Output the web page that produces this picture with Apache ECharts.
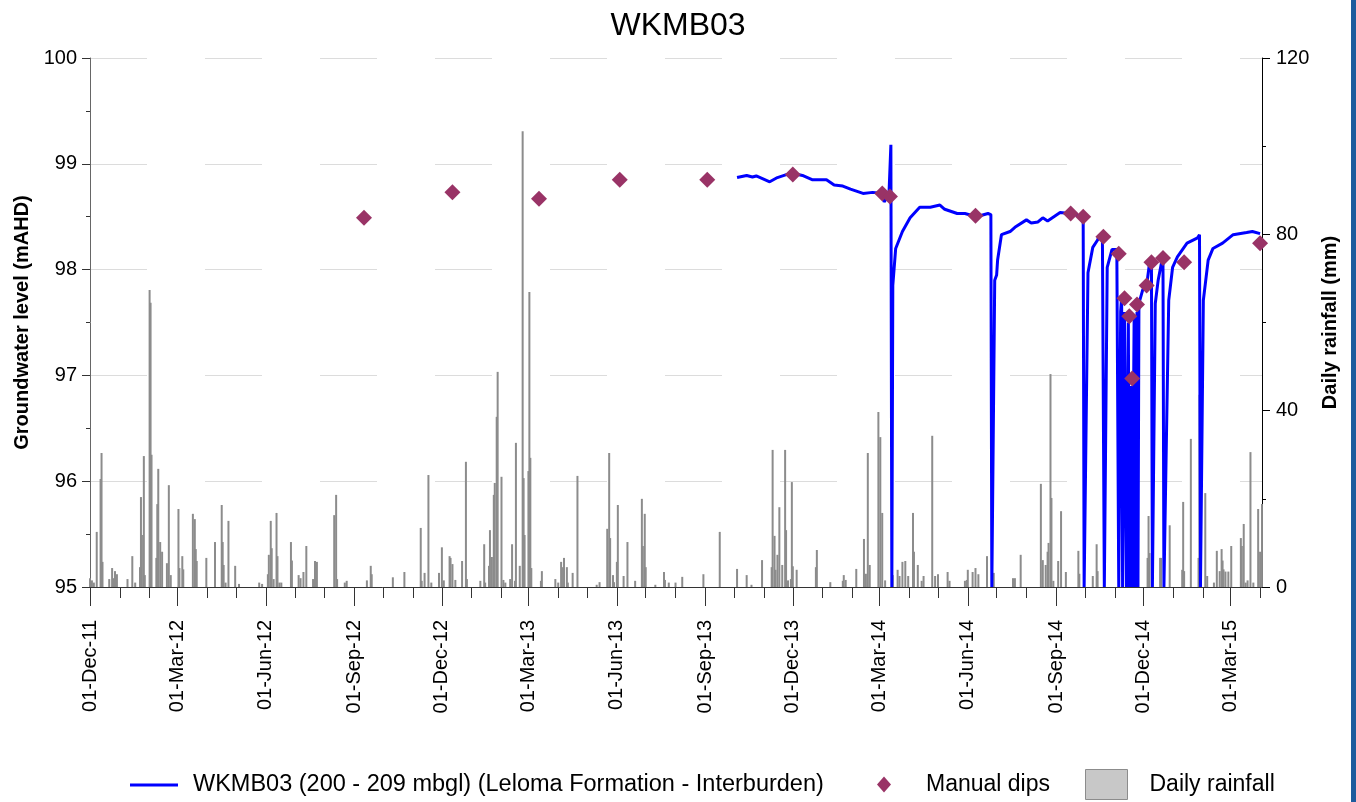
<!DOCTYPE html>
<html><head><meta charset="utf-8">
<script src="https://cdn.jsdelivr.net/npm/echarts@6/dist/echarts.min.js"></script>
<style>html,body{margin:0;padding:0;background:#fff}#c{width:1356px;height:802px}</style>
</head><body><div id="c"></div>
<script>
const chartTitle = 'WKMB03';
const lineName = 'WKMB03 (200 - 209 mbgl) (Leloma Formation - Interburden)';
const dipName = 'Manual dips';
const rainName = 'Daily rainfall';
const leftAxisName = 'Groundwater level (mAHD)';
const rightAxisName = 'Daily rainfall (mm)';
const xStart = '2011-12-01';
const xEnd = '2015-04-03';
const tickDates = ['2011-12-01','2012-03-01','2012-06-01','2012-09-01','2012-12-01','2013-03-01','2013-06-01','2013-09-01','2013-12-01','2014-03-01','2014-06-01','2014-09-01','2014-12-01','2015-03-01'];
const monthNames = ['Jan','Feb','Mar','Apr','May','Jun','Jul','Aug','Sep','Oct','Nov','Dec'];

const gwDates = ['2013-10-04','2013-10-14','2013-10-20','2013-10-24','2013-11-07','2013-11-15','2013-11-25','2013-12-01','2013-12-11','2013-12-21','2014-01-05','2014-01-13','2014-01-22','2014-01-30','2014-02-12','2014-02-22','2014-03-04','2014-03-06','2014-03-11','2014-03-13','2014-03-14','2014-03-15','2014-03-18','2014-03-25','2014-04-02','2014-04-12','2014-04-23','2014-05-03','2014-05-08','2014-05-21','2014-05-29','2014-06-10','2014-06-22','2014-06-25','2014-06-26','2014-06-29','2014-07-01','2014-07-02','2014-07-06','2014-07-15','2014-07-20','2014-08-01','2014-08-06','2014-08-13','2014-08-18','2014-08-23','2014-09-05','2014-09-15','2014-09-29','2014-09-30','2014-10-04','2014-10-09','2014-10-14','2014-10-16','2014-10-19','2014-10-21','2014-10-24','2014-10-29','2014-11-03','2014-11-05','2014-11-07','2014-11-08','2014-11-09','2014-11-11','2014-11-13','2014-11-15','2014-11-16','2014-11-18','2014-11-19','2014-11-21','2014-11-22','2014-11-24','2014-11-25','2014-11-26','2014-11-30','2014-12-04','2014-12-07','2014-12-09','2014-12-10','2014-12-13','2014-12-16','2014-12-20','2014-12-21','2014-12-22','2014-12-27','2014-12-31','2015-01-05','2015-01-15','2015-01-26','2015-01-28','2015-01-29','2015-02-01','2015-02-06','2015-02-11','2015-02-21','2015-03-04','2015-03-18','2015-03-24','2015-04-01'];
const gwValues = [98.87,98.89,98.875,98.885,98.83,98.87,98.90,98.91,98.89,98.85,98.85,98.80,98.79,98.76,98.72,98.73,98.72,98.64,98.71,99.18,95.0,97.85,98.20,98.36,98.49,98.59,98.59,98.61,98.57,98.53,98.53,98.50,98.53,98.52,95.0,97.90,97.95,98.09,98.33,98.36,98.40,98.47,98.44,98.45,98.49,98.46,98.54,98.53,98.50,95.0,97.97,98.21,98.28,98.33,98.31,95.0,98.02,98.19,98.19,95.0,97.6,97.75,95.0,97.6,95.0,97.5,95.0,96.9,95.0,97.55,95.0,97.6,95.0,97.68,97.81,97.85,98.06,98.08,95.0,97.68,97.90,98.09,98.11,95.0,97.71,98.02,98.12,98.25,98.30,98.33,95.0,97.71,98.09,98.20,98.25,98.33,98.35,98.36,98.34];

const dipDates = ['2012-09-11','2012-12-12','2013-03-12','2013-06-04','2013-09-03','2013-12-01','2014-03-04','2014-03-12','2014-06-09','2014-09-16','2014-09-29','2014-10-20','2014-11-05','2014-11-11','2014-11-16','2014-11-19','2014-11-24','2014-12-04','2014-12-09','2014-12-21','2015-01-12','2015-04-01'];
const dipValues = [98.49,98.73,98.67,98.85,98.85,98.90,98.72,98.69,98.51,98.53,98.50,98.31,98.15,97.73,97.56,96.97,97.67,97.85,98.07,98.11,98.07,98.25];

const rainDates = ['2011-12-01','2011-12-03','2011-12-05','2011-12-08','2011-12-12','2011-12-13','2011-12-14','2011-12-21','2011-12-24','2011-12-25','2011-12-27','2011-12-29','2012-01-09','2012-01-14','2012-01-17','2012-01-22','2012-01-23','2012-01-24','2012-01-26','2012-01-27','2012-02-01','2012-02-02','2012-02-03','2012-02-08','2012-02-09','2012-02-10','2012-02-12','2012-02-14','2012-02-19','2012-02-21','2012-02-23','2012-03-02','2012-03-03','2012-03-06','2012-03-07','2012-03-17','2012-03-19','2012-03-20','2012-03-21','2012-03-31','2012-04-09','2012-04-16','2012-04-17','2012-04-18','2012-04-20','2012-04-23','2012-04-30','2012-05-04','2012-05-25','2012-05-28','2012-06-03','2012-06-04','2012-06-06','2012-06-07','2012-06-09','2012-06-12','2012-06-13','2012-06-15','2012-06-17','2012-06-27','2012-06-28','2012-07-05','2012-07-07','2012-07-10','2012-07-13','2012-07-20','2012-07-22','2012-07-24','2012-08-11','2012-08-13','2012-08-14','2012-08-22','2012-08-24','2012-09-14','2012-09-18','2012-09-19','2012-10-11','2012-10-23','2012-11-09','2012-11-10','2012-11-13','2012-11-17','2012-11-20','2012-11-28','2012-12-01','2012-12-03','2012-12-09','2012-12-10','2012-12-12','2012-12-15','2012-12-22','2012-12-26','2012-12-27','2013-01-10','2013-01-14','2013-01-15','2013-01-19','2013-01-20','2013-01-22','2013-01-24','2013-01-25','2013-01-27','2013-01-28','2013-02-01','2013-02-03','2013-02-05','2013-02-10','2013-02-12','2013-02-15','2013-02-16','2013-02-20','2013-02-23','2013-02-24','2013-02-25','2013-03-01','2013-03-02','2013-03-03','2013-03-04','2013-03-14','2013-03-15','2013-03-29','2013-04-01','2013-04-04','2013-04-06','2013-04-07','2013-04-10','2013-04-11','2013-04-16','2013-04-21','2013-05-11','2013-05-14','2013-05-22','2013-05-24','2013-05-25','2013-05-28','2013-05-29','2013-06-01','2013-06-02','2013-06-08','2013-06-12','2013-06-20','2013-06-27','2013-06-28','2013-06-30','2013-07-01','2013-07-11','2013-07-20','2013-07-21','2013-07-25','2013-08-01','2013-08-08','2013-08-30','2013-09-16','2013-10-04','2013-10-14','2013-10-19','2013-10-30','2013-11-09','2013-11-10','2013-11-12','2013-11-13','2013-11-15','2013-11-17','2013-11-20','2013-11-23','2013-11-24','2013-11-26','2013-11-29','2013-11-30','2013-12-01','2013-12-05','2013-12-25','2013-12-26','2014-01-09','2014-01-22','2014-01-23','2014-01-25','2014-02-05','2014-02-13','2014-02-15','2014-02-17','2014-02-19','2014-02-28','2014-03-02','2014-03-04','2014-03-07','2014-03-15','2014-03-20','2014-03-22','2014-03-25','2014-03-28','2014-03-31','2014-04-05','2014-04-06','2014-04-10','2014-04-14','2014-04-16','2014-04-25','2014-04-28','2014-05-01','2014-05-11','2014-05-13','2014-05-29','2014-05-31','2014-06-01','2014-06-06','2014-06-09','2014-06-12','2014-06-21','2014-06-28','2014-07-18','2014-07-20','2014-07-26','2014-08-16','2014-08-18','2014-08-21','2014-08-23','2014-08-24','2014-08-26','2014-08-27','2014-08-29','2014-09-03','2014-09-06','2014-09-11','2014-09-24','2014-09-25','2014-10-09','2014-10-13','2014-10-14','2014-11-09','2014-12-05','2014-12-06','2014-12-07','2014-12-18','2014-12-19','2014-12-28','2015-01-10','2015-01-11','2015-01-12','2015-01-19','2015-01-27','2015-01-28','2015-02-03','2015-02-05','2015-02-12','2015-02-15','2015-02-18','2015-02-20','2015-02-21','2015-02-22','2015-02-24','2015-02-27','2015-03-02','2015-03-12','2015-03-13','2015-03-15','2015-03-17','2015-03-19','2015-03-22','2015-03-25','2015-03-30','2015-04-01','2015-04-03'];
const rainValues = [2,1.5,1,12.5,24.5,30.4,5.7,1.8,4.3,2,3.6,2.9,1.8,7,1,4.5,20.4,11.8,29.7,2.7,67.4,64.5,30,6.6,18.8,26.8,10.2,8,5.4,23.1,2.7,17.7,4.3,7,4,16.6,15.4,8.6,5.9,6.6,10.2,18.6,10.2,5,1,15,4.8,0.7,1,0.7,2.9,7.3,15,8.8,1.8,16.8,7,1,1,10.2,6,2.7,2,3.4,9.3,1.8,5.9,5.7,16.3,20.9,1.8,1,1.4,1.5,4.8,2.9,2.2,3.4,13.4,1.4,3.2,25.4,1,3.2,9,1.5,7,6.6,5.2,1.6,5.9,28.4,1.8,1.4,9.7,1,4.8,12.9,6.8,20.9,23.6,38.6,48.8,25,1.6,1,1.8,9.7,1.4,32.7,4.8,103.4,24.7,11.8,26.3,66.9,29.3,4.3,1.4,3.6,1.8,1,5.7,4.5,6.6,4.5,1,3.2,25.2,0.5,1.1,13.2,30.4,11.1,2.7,1.1,5.7,18.6,2.5,10.2,1.4,20,9.3,16.6,4.5,0.5,3.4,1.6,1,1,2.3,2.9,12.5,4.1,2.7,0.5,6.1,4.5,31.1,11.6,3.9,7.3,18.1,5,31.1,12.9,1.5,1.8,23.8,4.7,3.9,4.5,8.4,1.1,1.4,2.7,1.6,4.1,10.9,3,30.4,5,39.7,34,16.8,1.5,2.7,3.9,2.5,5.7,5.9,2.5,16.8,8,5,1.4,2.5,34.3,2.5,2.9,3.4,1.4,1.4,1.6,3.9,3.4,4.3,2.9,7,3.2,2,2,7.3,23.4,6.1,5,8,10,48.3,20.2,1.4,5.9,17.2,3.4,8.2,3,2.5,9.7,3.6,3.4,6.6,16.1,7.7,6.6,6.6,14,3.9,19.3,3.6,33.6,6.6,43.6,21.3,2.5,1,8.2,3.6,8.6,6,4,3.5,3.5,9.3,11.1,9.3,14.3,1,1.5,30.6,1,17.7,8,18.8];

function ts(s){const p=s.split('-').map(Number);return Date.UTC(p[0],p[1]-1,p[2]);}
function fmt(v){const d=new Date(v);const dd=String(d.getUTCDate()).padStart(2,'0');return dd+'-'+monthNames[d.getUTCMonth()]+'-'+String(d.getUTCFullYear()).slice(2);}
const monthTicks=[];
(function(){let y=2011,m=11;while(true){const t=Date.UTC(y,m,1);if(t>ts(xEnd))break;monthTicks.push(t);m++;if(m>11){m=0;y++;}}})();

const font='"Liberation Sans", Arial, sans-serif';
const chart=echarts.init(document.getElementById('c'),null,{renderer:'canvas'});
chart.setOption({
  animation:false,
  backgroundColor:'#ffffff',
  textStyle:{fontFamily:font,color:'#000'},
  title:{text:chartTitle,left:'center',top:5,textStyle:{fontFamily:font,fontSize:32,fontWeight:'normal',color:'#000'}},
  grid:{left:90,right:94,top:58,bottom:215,containLabel:false},
  legend:[
    {data:[{name:lineName,icon:'rect',itemStyle:{color:'#0000ff'}}],left:125,top:768,itemWidth:48,itemHeight:3,itemGap:0,
     textStyle:{fontFamily:font,fontSize:23.5,color:'#000',padding:[0,0,0,10]}},
    {data:[{name:dipName,icon:'diamond',itemStyle:{color:'#993366',opacity:1}}],left:872,top:768,itemWidth:14,itemHeight:16,
     textStyle:{fontFamily:font,fontSize:23,color:'#000',padding:[0,0,0,30]}},
    {data:[{name:rainName,icon:'rect',itemStyle:{color:'#c8c8c8',borderColor:'#8c8c8c',borderWidth:1}}],left:1080,top:764,itemWidth:42,itemHeight:30,
     textStyle:{fontFamily:font,fontSize:23,color:'#000',padding:[0,0,0,17]}}
  ],
  xAxis:[
    {type:'value',min:ts(xStart),max:ts(xEnd),position:'bottom',
     axisLine:{show:true,onZero:false,lineStyle:{color:'#333',width:1}},
     axisTick:{show:true,customValues:tickDates.map(ts),length:19,lineStyle:{color:'#333'}},
     axisLabel:{show:true,customValues:tickDates.map(ts),formatter:fmt,rotate:90,fontSize:20,color:'#000',fontFamily:font,margin:33},
     splitLine:{show:false}},
    {type:'value',min:ts(xStart),max:ts(xEnd),position:'bottom',
     axisLine:{show:false,onZero:false},
     axisTick:{show:true,customValues:monthTicks,length:11,lineStyle:{color:'#333'}},
     axisLabel:{show:false},splitLine:{show:false}}
  ],
  yAxis:[
    {type:'value',min:95,max:100,interval:1,position:'left',
     name:leftAxisName,nameLocation:'middle',nameGap:58,nameRotate:90,
     nameTextStyle:{fontFamily:font,fontSize:20,fontWeight:'bold',color:'#000'},
     axisLine:{show:true,onZero:false,lineStyle:{color:'#666'}},
     axisTick:{show:true,length:8,lineStyle:{color:'#333'}},
     minorTick:{show:true,splitNumber:2,length:4,lineStyle:{color:'#333'}},
     axisLabel:{fontSize:20,color:'#000',fontFamily:font,margin:13},
     splitLine:{show:true,lineStyle:{color:'#dcdcdc',width:1,type:[57,58]}}},
    {type:'value',min:0,max:120,interval:40,position:'right',
     name:rightAxisName,nameLocation:'middle',nameGap:58,nameRotate:90,
     nameTextStyle:{fontFamily:font,fontSize:20,fontWeight:'bold',color:'#000'},
     axisLine:{show:true,onZero:false,lineStyle:{color:'#000'}},
     axisTick:{show:true,length:8,lineStyle:{color:'#000'}},
     minorTick:{show:true,splitNumber:2,length:4,lineStyle:{color:'#000'}},
     axisLabel:{fontSize:20,color:'#000',fontFamily:font,margin:14},
     splitLine:{show:false}}
  ],
  series:[
    {name:rainName,type:'bar',xAxisIndex:0,yAxisIndex:1,barWidth:2,
     itemStyle:{color:'#8c8c8c'},data:rainDates.map((d,i)=>[ts(d),rainValues[i]])},
    {name:lineName,type:'line',xAxisIndex:0,yAxisIndex:0,showSymbol:false,symbol:'none',
     lineStyle:{color:'#0000ff',width:3},itemStyle:{color:'#0000ff'},z:3,
     data:gwDates.map((d,i)=>[ts(d),gwValues[i]])},
    {name:dipName,type:'scatter',xAxisIndex:0,yAxisIndex:0,symbol:'diamond',symbolSize:16,
     itemStyle:{color:'#993366',opacity:1},z:4,data:dipDates.map((d,i)=>[ts(d),dipValues[i]])}
  ],
  graphic:[{type:'rect',left:1351,top:0,shape:{width:5,height:802},style:{fill:'#1d5b9d'},silent:true}]
});
</script></body></html>
